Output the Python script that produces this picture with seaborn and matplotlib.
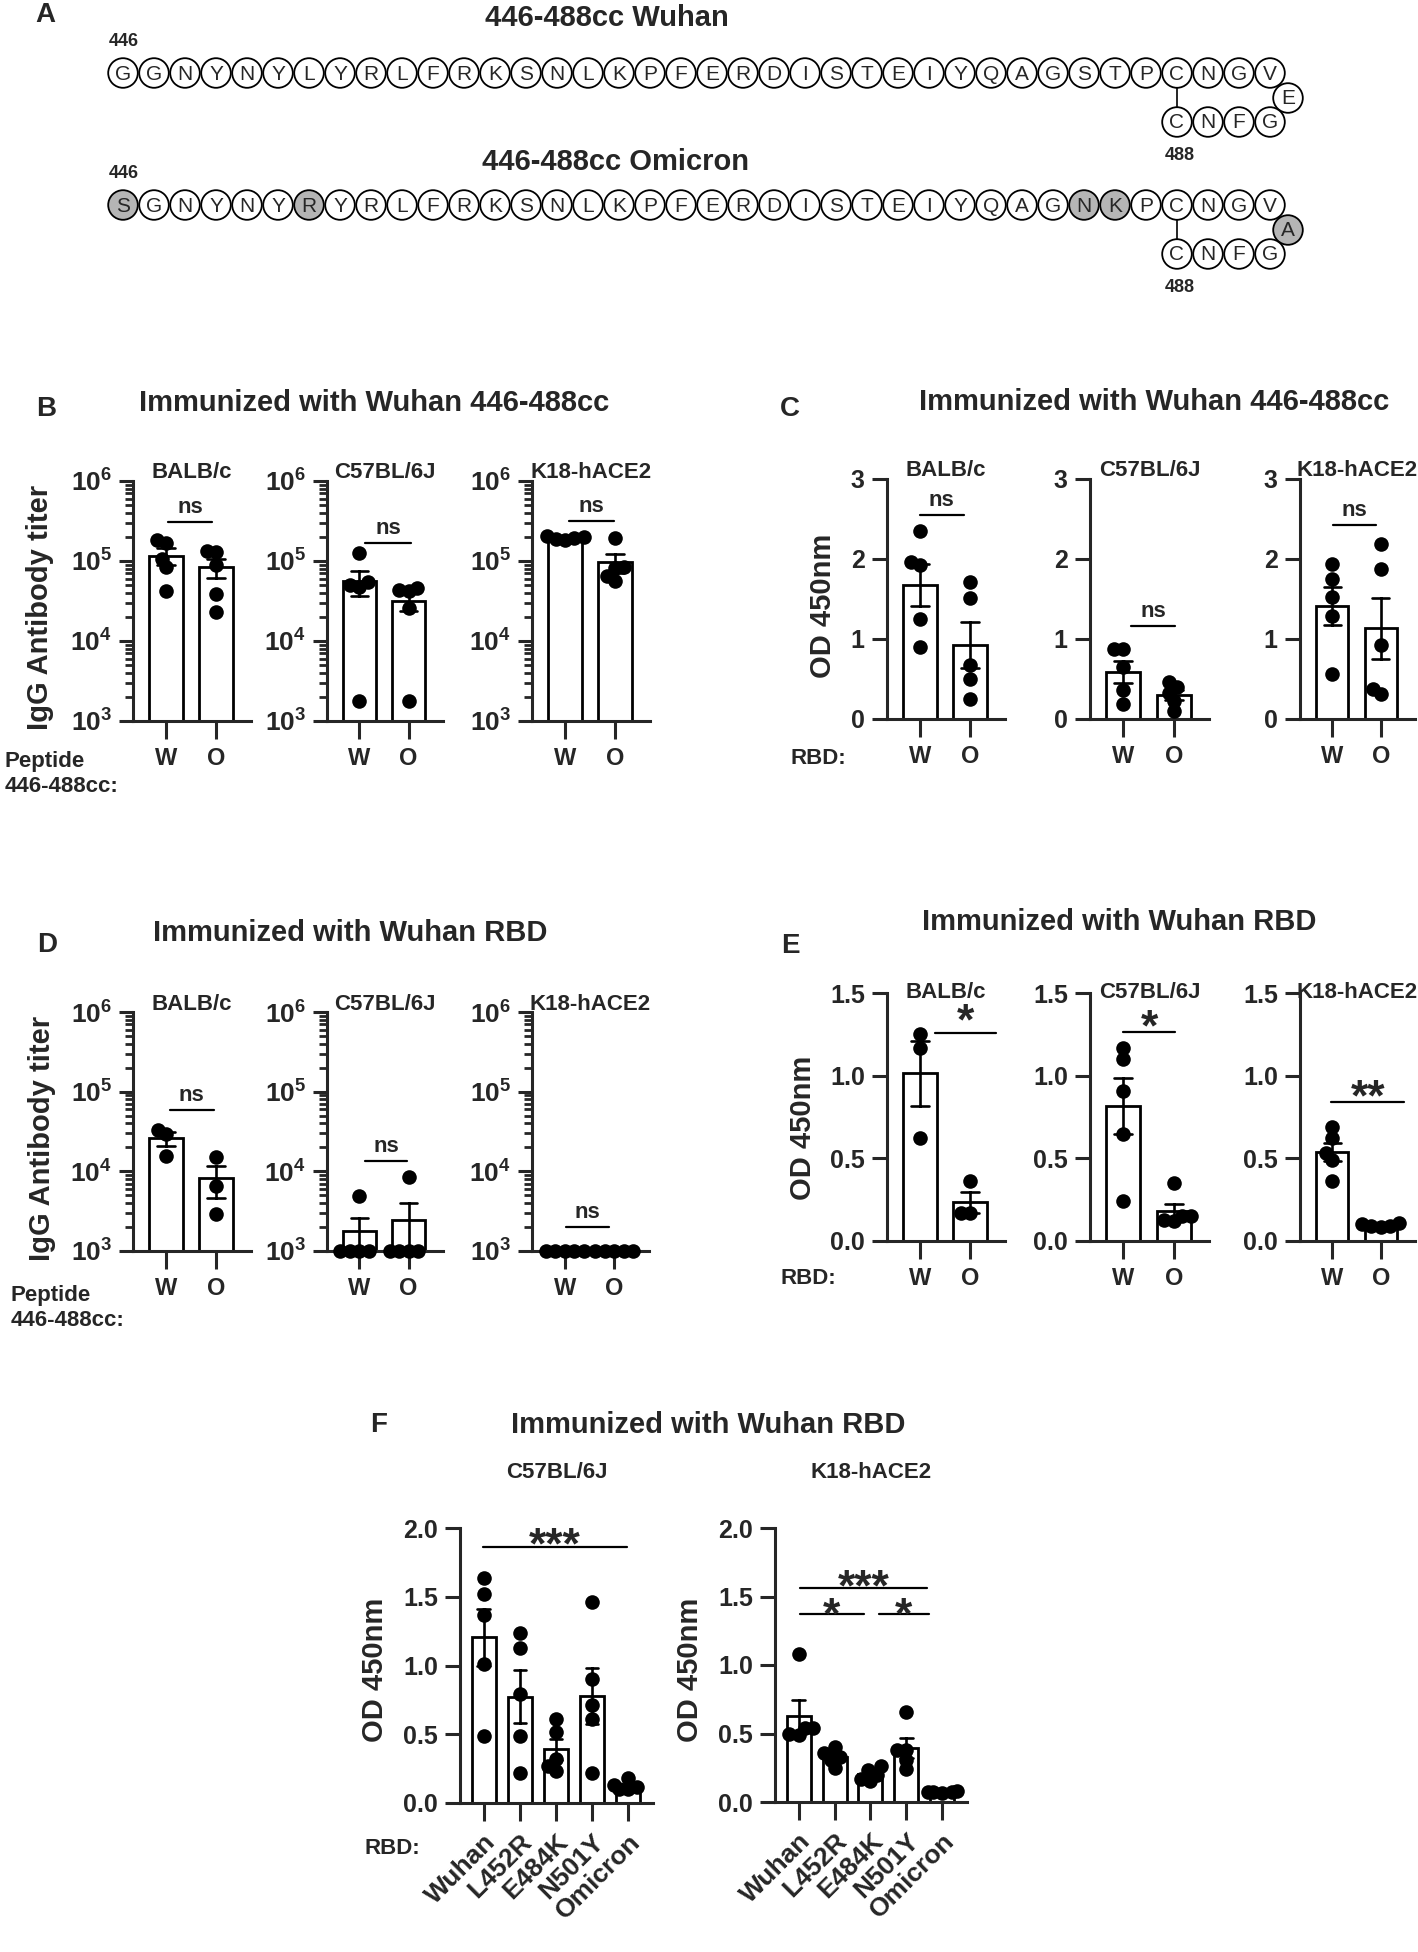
import warnings
import numpy as np
import pandas as pd
import matplotlib
matplotlib.use('Agg')
import matplotlib.pyplot as plt
import matplotlib.ticker as mticker
from matplotlib.patches import Circle
import seaborn as sns

warnings.filterwarnings('ignore')

# ---------------- data ----------------
wuhan_seq = "GGNYNYLYRLFRKSNLKPFERDISTEIYQAGSTPCNGVEGFNC"
omicron_seq = "SGNYNYRYRLFRKSNLKPFERDISTEIYQAGNKPCNGVAGFNC"

groups = ['W', 'O']
strains = ['BALB/c', 'C57BL/6J', 'K18-hACE2']
variants = ['Wuhan', 'L452R', 'E484K', 'N501Y', 'Omicron']

# B: IgG titer vs peptide, immunized with Wuhan 446-488cc
b_balb_w = [1.7e5, 1.85e5, 1.05e5, 8.3e4, 4.2e4]
b_balb_o = [1.35e5, 1.3e5, 9.0e4, 3.9e4, 2.3e4]
b_c57_w = [1.25e5, 5.5e4, 5.0e4, 4.8e4, 1.8e3]
b_c57_o = [4.6e4, 4.4e4, 4.2e4, 2.6e4, 1.8e3]
b_k18_w = [2.0e5, 1.9e5, 1.95e5, 1.85e5, 2.05e5]
b_k18_o = [1.95e5, 8.3e4, 8.2e4, 5.6e4, 6.5e4]

# C: OD450 vs RBD, immunized with Wuhan 446-488cc
c_balb_w = [2.35, 1.92, 1.96, 1.25, 0.90]
c_balb_o = [1.71, 1.51, 0.67, 0.50, 0.25]
c_c57_w = [0.87, 0.88, 0.65, 0.36, 0.19]
c_c57_o = [0.33, 0.46, 0.40, 0.23, 0.10]
c_k18_w = [1.94, 1.75, 1.52, 1.29, 0.56]
c_k18_o = [2.19, 1.87, 0.92, 0.38, 0.31]

# D: IgG titer vs peptide, immunized with Wuhan RBD
d_balb_w = [3.3e4, 2.9e4, 1.55e4]
d_balb_o = [1.5e4, 6.6e3, 2.9e3]
d_c57_w = [4.9e3, 1e3, 1e3, 1e3, 1e3]
d_c57_o = [8.4e3, 1e3, 1e3, 1e3, 1e3]
d_k18_w = [1e3, 1e3, 1e3, 1e3, 1e3]
d_k18_o = [1e3, 1e3, 1e3, 1e3, 1e3]

# E: OD450 vs RBD, immunized with Wuhan RBD
e_balb_w = [1.25, 1.17, 0.62]
e_balb_o = [0.36, 0.17, 0.17]
e_c57_w = [1.17, 1.10, 0.91, 0.65, 0.24]
e_c57_o = [0.35, 0.13, 0.15, 0.15, 0.12]
e_k18_w = [0.69, 0.62, 0.53, 0.49, 0.36]
e_k18_o = [0.11, 0.10, 0.09, 0.09, 0.085]

# F: OD450 vs RBD variants
f_c57 = [[1.64, 1.52, 1.37, 1.01, 0.49],
         [1.24, 1.13, 0.79, 0.49, 0.22],
         [0.61, 0.52, 0.32, 0.27, 0.23],
         [1.46, 0.90, 0.71, 0.61, 0.22],
         [0.18, 0.13, 0.12, 0.10, 0.10]]
f_k18 = [[1.08, 0.54, 0.49, 0.50, 0.54],
         [0.40, 0.36, 0.33, 0.31, 0.25],
         [0.26, 0.23, 0.20, 0.17, 0.15],
         [0.66, 0.38, 0.38, 0.31, 0.24],
         [0.08, 0.075, 0.07, 0.072, 0.068]]

# significance brackets: x1, x2, y, label, text offset (px)
b_sig = [(0.04, 0.92, 10**5.49, 'ns', 9), (0.12, 1.04, 10**5.22, 'ns', 9), (0.08, 0.98, 10**5.5, 'ns', 9)]
c_sig = [(0.0, 0.87, 2.55, 'ns', 9), (0.16, 1.03, 1.16, 'ns', 9), (0.01, 0.89, 2.42, 'ns', 9)]
d_sig = [(0.07, 0.95, 10**4.77, 'ns', 9), (0.11, 0.97, 10**4.13, 'ns', 9), (0.02, 0.9, 10**3.3, 'ns', 9)]
e_sig = [(0.29, 1.52, 1.258, '*', -1), (0.0, 1.03, 1.264, '*', -8), (-0.02, 1.48, 0.841, '**', -8)]
f1_sig = [(-0.03, 3.98, 1.862, '***', -11)]
f2_sig = [(0.05, 3.57, 1.562, '***', -12), (0.03, 1.81, 1.372, '*', -14), (2.23, 3.63, 1.372, '*', -14)]

# ---------------- style ----------------
sns.set_style('ticks')
plt.rcParams['font.family'] = ['Liberation Sans', 'DejaVu Sans']
plt.rcParams['font.weight'] = 'bold'
plt.rcParams['mathtext.fontset'] = 'custom'
plt.rcParams['mathtext.rm'] = 'Liberation Sans:bold'
plt.rcParams['mathtext.bf'] = 'Liberation Sans:bold'
plt.rcParams['mathtext.it'] = 'Liberation Sans:bold'
plt.rcParams['mathtext.default'] = 'bf'

W, H = 1418, 1952
fig = plt.figure(figsize=(W / 100, H / 100), dpi=100)
swarms = []


def ftext(x, y, s, **kw):
    fig.text(x / W, 1 - y / H, s, **kw)


def add_ax(l, t, r, b):
    return fig.add_axes([l / W, 1 - b / H, (r - l) / W, (b - t) / H])


def draw_bars(ax, cats, values, log=False):
    df = pd.DataFrame({'grp': np.repeat(cats, [len(v) for v in values]),
                       'val': np.concatenate(values)})
    sns.barplot(data=df, x='grp', y='val', order=cats, color='white', edgecolor='black',
                linewidth=2.0, width=0.67, errorbar='se', capsize=0.35,
                err_kws={'color': 'black', 'linewidth': 1.9}, ax=ax)
    if log:
        ax.set_yscale('log')
    # swarm laid out with a small marker (dots overlap like the original); enlarged later
    n0 = len(ax.collections)
    sns.swarmplot(data=df, x='grp', y='val', order=cats, color='black', size=6.5,
                  ax=ax, zorder=4, clip_on=False)
    swarms.extend(ax.collections[n0:])
    ax.set_xlabel('')
    ax.set_ylabel('')
    sns.despine(ax=ax)
    for s in ['left', 'bottom']:
        ax.spines[s].set_linewidth(2.2)
    ax.set_xticks(range(len(cats)))
    ax.tick_params(axis='x', length=13, width=2.2, pad=6, labelsize=17)
    ax.tick_params(axis='y', which='major', width=2.2, pad=5, labelsize=18)


def draw_sig(ax, sigs, fs):
    for x1, x2, y, lab, off in sigs:
        ax.plot([x1, x2], [y, y], color='black', lw=1.6, clip_on=False)
        ax.annotate(lab, xy=((x1 + x2) / 2, y), xytext=(0, off), textcoords='offset pixels',
                    ha='center', va='baseline', fontsize=fs if lab == 'ns' else 32,
                    fontweight='bold', annotation_clip=False)


def two_group_row(rects, datasets, sigs, log, ylim, yticks, ylabels, title_off):
    for rect, (w, o), name, sig in zip(rects, datasets, strains, sigs):
        ax = add_ax(*rect)
        draw_bars(ax, groups, [w, o], log=log)
        ax.set_xlim(-0.66, 1.7)
        ax.set_ylim(*ylim)
        ax.set_yticks(yticks)
        ax.set_yticklabels(ylabels)
        if log:
            ax.yaxis.set_minor_locator(mticker.LogLocator(base=10, subs=np.arange(2, 10)))
            ax.yaxis.set_minor_formatter(mticker.NullFormatter())
            ax.tick_params(axis='y', which='major', length=10, labelsize=19)
            ax.tick_params(axis='y', which='minor', length=6, width=2.0)
        else:
            ax.tick_params(axis='y', which='major', length=11)
        ax.set_xticklabels(groups, fontsize=17, fontweight='bold')
        ax.annotate(name, xy=(0.5, 1.0), xycoords='axes fraction', xytext=(0, title_off),
                    textcoords='offset pixels', ha='center', va='center', fontsize=16,
                    fontweight='bold', annotation_clip=False)
        draw_sig(ax, [sig], 16)


# ---------------- panel A ----------------
axA = fig.add_axes([0, 1 - 300 / H, 1, 300 / H])
axA.set_xlim(0, W)
axA.set_ylim(300, 0)
axA.axis('off')


def draw_seq(seq, ref, row_y):
    x0, step, r = 123, 31, 14.8
    for i, aa in enumerate(seq):
        if i < 38:
            x, y = x0 + i * step, row_y
        elif i == 38:
            x, y = x0 + 37 * step + 18, row_y + 25
        else:
            x, y = x0 + (37 - (i - 39)) * step, row_y + 49
        fc = '#b5b5b5' if aa != ref[i] else 'white'
        axA.add_patch(Circle((x, y), r, facecolor=fc, edgecolor='black', lw=1.3))
        axA.text(x, y + 1, aa, ha='center', va='center', fontsize=15, fontweight='normal')
    xc = x0 + 34 * step
    axA.plot([xc, xc], [row_y + r, row_y + 49 - r], color='black', lw=1.2)
    axA.text(124, row_y - 31, '446', ha='center', va='center', fontsize=13)
    axA.text(xc + 3, row_y + 82, '488', ha='center', va='center', fontsize=13)


draw_seq(wuhan_seq, wuhan_seq, 73)
draw_seq(omicron_seq, wuhan_seq, 205)
axA.text(607, 18, '446-488cc Wuhan', ha='center', va='center', fontsize=21)
axA.text(616, 162, '446-488cc Omicron', ha='center', va='center', fontsize=21)

# ---------------- panel letters and titles ----------------
for lab, x, y in [('A', 45, 15), ('B', 46, 409), ('C', 790, 409), ('D', 47, 945),
                  ('E', 790, 946), ('F', 379, 1425)]:
    ftext(x, y, lab, ha='center', va='center', fontsize=20)
for s, x, y in [('Immunized with Wuhan 446-488cc', 374, 403),
                ('Immunized with Wuhan 446-488cc', 1154, 402),
                ('Immunized with Wuhan RBD', 350, 933),
                ('Immunized with Wuhan RBD', 1119, 922),
                ('Immunized with Wuhan RBD', 708, 1425)]:
    ftext(x, y, s, ha='center', va='center', fontsize=21)

# ---------------- panel B ----------------
log_ticks = [1e3, 1e4, 1e5, 1e6]
log_labels = [r'$10^{3}$', r'$10^{4}$', r'$10^{5}$', r'$10^{6}$']
two_group_row([(133, 481, 251, 721), (327, 481, 443, 721), (532, 481, 650, 721)],
              [(b_balb_w, b_balb_o), (b_c57_w, b_c57_o), (b_k18_w, b_k18_o)],
              b_sig, True, (1e3, 1e6), log_ticks, log_labels, 9)
ftext(40, 607, 'IgG Antibody titer', ha='center', va='center', rotation=90, fontsize=21)
ftext(5, 762, 'Peptide', ha='left', va='center', fontsize=16)
ftext(5, 786, '446-488cc:', ha='left', va='center', fontsize=16)

# ---------------- panel C ----------------
two_group_row([(887, 479, 1005, 719), (1090, 479, 1209, 719), (1300, 479, 1415, 719)],
              [(c_balb_w, c_balb_o), (c_c57_w, c_c57_o), (c_k18_w, c_k18_o)],
              c_sig, False, (0, 3), [0, 1, 2, 3], ['0', '1', '2', '3'], 9)
ftext(823, 606, 'OD 450nm', ha='center', va='center', rotation=90, fontsize=21)
ftext(790, 758, 'RBD:', ha='left', va='center', fontsize=16)

# ---------------- panel D ----------------
two_group_row([(133, 1012, 251, 1251), (327, 1012, 443, 1251), (532, 1012, 649, 1251)],
              [(d_balb_w, d_balb_o), (d_c57_w, d_c57_o), (d_k18_w, d_k18_o)],
              d_sig, True, (1e3, 1e6), log_ticks, log_labels, 8)
ftext(42, 1138, 'IgG Antibody titer', ha='center', va='center', rotation=90, fontsize=21)
ftext(11, 1295, 'Peptide', ha='left', va='center', fontsize=16)
ftext(11, 1320, '446-488cc:', ha='left', va='center', fontsize=16)

# ---------------- panel E ----------------
two_group_row([(887, 993, 1005, 1241), (1090, 993, 1209, 1241), (1300, 993, 1415, 1241)],
              [(e_balb_w, e_balb_o), (e_c57_w, e_c57_o), (e_k18_w, e_k18_o)],
              e_sig, False, (0, 1.5), [0, 0.5, 1.0, 1.5], ['0.0', '0.5', '1.0', '1.5'], 1)
ftext(803, 1128, 'OD 450nm', ha='center', va='center', rotation=90, fontsize=21)
ftext(781, 1278, 'RBD:', ha='left', va='center', fontsize=16)

# ---------------- panel F ----------------
for rect, vals, name, sig, ylab_x in [((460, 1528, 653, 1803), f_c57, 'C57BL/6J', f1_sig, 375),
                                      ((775, 1528, 967, 1802), f_k18, 'K18-hACE2', f2_sig, 690)]:
    ax = add_ax(*rect)
    draw_bars(ax, variants, vals)
    ax.set_xlim(-0.66, 4.69)
    ax.set_ylim(0, 2.0)
    ax.set_yticks([0, 0.5, 1.0, 1.5, 2.0])
    ax.set_yticklabels(['0.0', '0.5', '1.0', '1.5', '2.0'])
    ax.tick_params(axis='y', which='major', length=11)
    ax.set_xticklabels(variants, rotation=45, ha='right', rotation_mode='anchor',
                       fontsize=19, fontweight='bold')
    draw_sig(ax, sig, 16)
    ftext((rect[0] + rect[2]) / 2, 1472, name, ha='center', va='center', fontsize=16)
    ftext(ylab_x, 1670, 'OD 450nm', ha='center', va='center', rotation=90, fontsize=21)
ftext(365, 1848, 'RBD:', ha='left', va='center', fontsize=16)

# lay out the swarms once with the small marker, then freeze them and enlarge the dots
fig.canvas.draw()
for coll in swarms:
    if 'draw' in coll.__dict__:
        del coll.draw
    coll.set_sizes([10.5 ** 2])

fig.savefig('out.png', dpi=100)
